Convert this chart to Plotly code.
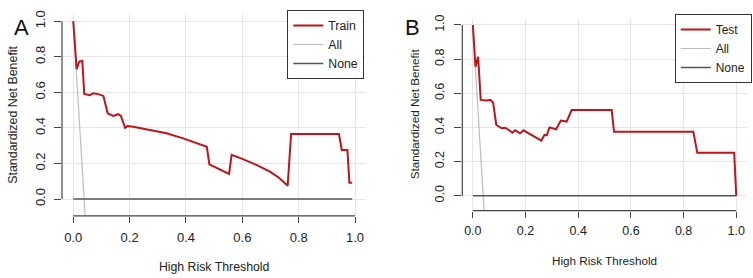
import plotly.graph_objects as go

# ---- data ----
train_x = [0, 0.012, 0.021, 0.032, 0.039, 0.059, 0.071, 0.089, 0.107, 0.122, 0.142, 0.16, 0.169,
           0.184, 0.192, 0.213, 0.272, 0.331, 0.39, 0.45, 0.474, 0.483, 0.553, 0.562, 0.6, 0.65,
           0.698, 0.73, 0.761, 0.773, 0.943, 0.953, 0.973, 0.98, 0.99]
train_y = [1.0, 0.73, 0.773, 0.778, 0.591, 0.584, 0.595, 0.59, 0.58, 0.482, 0.467, 0.477, 0.467,
           0.401, 0.411, 0.407, 0.388, 0.37, 0.341, 0.31, 0.294, 0.195, 0.141, 0.248, 0.226, 0.192,
           0.154, 0.12, 0.075, 0.366, 0.366, 0.276, 0.276, 0.092, 0.092]

test_x = [0, 0.01, 0.02, 0.03, 0.052, 0.067, 0.077, 0.089, 0.11, 0.123, 0.142, 0.15, 0.16, 0.18,
          0.192, 0.26, 0.272, 0.281, 0.291, 0.316, 0.334, 0.356, 0.375, 0.527, 0.536, 0.837,
          0.852, 0.992, 1.0]
test_y = [1.0, 0.756, 0.814, 0.561, 0.557, 0.561, 0.545, 0.414, 0.395, 0.398, 0.379, 0.369, 0.383,
          0.365, 0.383, 0.322, 0.357, 0.355, 0.4, 0.389, 0.44, 0.434, 0.502, 0.502, 0.375, 0.375,
          0.252, 0.252, 0.0]

all_x = [0, 0.01, 0.02, 0.03, 0.04, 0.05]
all_y_train = [1.0, 0.74, 0.48, 0.22, -0.04, -0.30]
all_y_test = [1.0, 0.745, 0.49, 0.235, -0.02, -0.275]

none_x_train = [0, 0.99]
none_x_test = [0, 1.0]
none_y = [0, 0]

tick_vals = [0, 0.2, 0.4, 0.6, 0.8, 1.0]
tick_text = ["0.0", "0.2", "0.4", "0.6", "0.8", "1.0"]

RED = "#c0131b"
ALLC = "#bdbdbd"
NONEC = "#555555"
GRID = "#e6e6e6"
AXC = "#444444"
FONT = "Liberation Sans, Arial, sans-serif"
TXT = "#222222"

W, H = 753, 278
fig = go.Figure()

def add_panel(xa, ya, leg, mx, my, ax_, none_x, label):
    fig.add_trace(go.Scatter(x=all_x, y=ax_, mode="lines", name="All", line=dict(color=ALLC, width=1.2),
                             xaxis=xa, yaxis=ya, legend=leg, legendrank=2))
    fig.add_trace(go.Scatter(x=none_x, y=none_y, mode="lines", name="None",
                             line=dict(color=NONEC, width=1.5), xaxis=xa, yaxis=ya, legend=leg,
                             legendrank=3))
    fig.add_trace(go.Scatter(x=mx, y=my, mode="lines", name=label, line=dict(color=RED, width=2),
                             xaxis=xa, yaxis=ya, legend=leg, legendrank=1))

add_panel("x", "y", "legend", train_x, train_y, all_y_train, none_x_train, "Train")
add_panel("x2", "y2", "legend2", test_x, test_y, all_y_test, none_x_test, "Test")

def px_dom(a, b, total):
    return [a / total, b / total]

def py_dom(top, bottom):
    return [1 - bottom / H, 1 - top / H]

def xaxis_cfg(dom, fs, tfs, lstand, standoff, anchor):
    return dict(domain=dom, range=[-0.04, 1.04], tickvals=tick_vals, ticktext=tick_text, anchor=anchor,
                showgrid=True, gridcolor=GRID, gridwidth=1, zeroline=False, showline=False,
                ticks="outside", ticklen=6, tickcolor=AXC, tickwidth=1, automargin=False,
                ticklabelstandoff=lstand,
                tickfont=dict(family=FONT, size=fs, color=TXT),
                title=dict(text="High Risk Threshold", font=dict(family=FONT, size=tfs, color=TXT),
                           standoff=standoff),
                fixedrange=True)

def yaxis_cfg(dom, rng, fs, tfs, lstand, standoff, anchor):
    return dict(domain=dom, range=rng, tickvals=tick_vals, ticktext=tick_text, anchor=anchor,
                showgrid=True, gridcolor=GRID, gridwidth=1, zeroline=False, showline=False,
                ticks="outside", ticklen=7, tickcolor=AXC, tickwidth=1, tickangle=-90,
                automargin=False, ticklabelstandoff=lstand,
                tickfont=dict(family=FONT, size=fs, color=TXT),
                title=dict(text="Standardized Net Benefit", font=dict(family=FONT, size=tfs, color=TXT),
                           standoff=standoff),
                fixedrange=True)

fig.update_layout(
    width=W, height=H,
    margin=dict(l=0, r=0, t=0, b=0, autoexpand=False),
    paper_bgcolor="white", plot_bgcolor="white",
    xaxis=xaxis_cfg(px_dom(62.0, 366.3, W), 13, 12.3, 3, 18, "y"),
    yaxis=yaxis_cfg(py_dom(13.8, 215.9), [-0.095, 1.042], 13, 12.4, 4, 12, "x"),
    xaxis2=xaxis_cfg(px_dom(462.3, 746.8, W), 12.5, 11.7, 2, 20, "y2"),
    yaxis2=yaxis_cfg(py_dom(17.8, 210.7), [-0.088, 1.042], 12.5, 11.7, 5, 11, "x2"),
    legend=dict(x=287.3 / W, y=1 - 10 / H, xanchor="left", yanchor="top",
                bordercolor="#333333", borderwidth=1, bgcolor="white",
                font=dict(family=FONT, size=12.3, color=TXT), itemwidth=30, tracegroupgap=0),
    legend2=dict(x=674.7 / W, y=1 - 14 / H, xanchor="left", yanchor="top",
                 bordercolor="#333333", borderwidth=1, bgcolor="white",
                 font=dict(family=FONT, size=12, color=TXT), itemwidth=30, tracegroupgap=0),
    showlegend=True,
)

# R-style axis lines spanning only 0..1
for xr, yr in (("x", "y"), ("x2", "y2")):
    fig.add_shape(type="line", xref=xr, yref=yr + " domain", x0=0, x1=1, y0=0, y1=0,
                  line=dict(color=AXC, width=1.2))
    fig.add_shape(type="line", xref=xr + " domain", yref=yr, x0=0, x1=0, y0=0, y1=1,
                  line=dict(color=AXC, width=1.2))

fig.add_annotation(text="A", x=11.7 / W, y=1 - 13.3 / H, xref="paper", yref="paper",
                   showarrow=False, font=dict(family=FONT, size=22, color="#111111"))
fig.add_annotation(text="B", x=412.7 / W, y=1 - 13.3 / H, xref="paper", yref="paper",
                   showarrow=False, font=dict(family=FONT, size=22, color="#111111"))

fig.write_html("out.html", config={"displayModeBar": False},
               post_script="document.body.style.margin='0';document.body.style.overflow='hidden';")
